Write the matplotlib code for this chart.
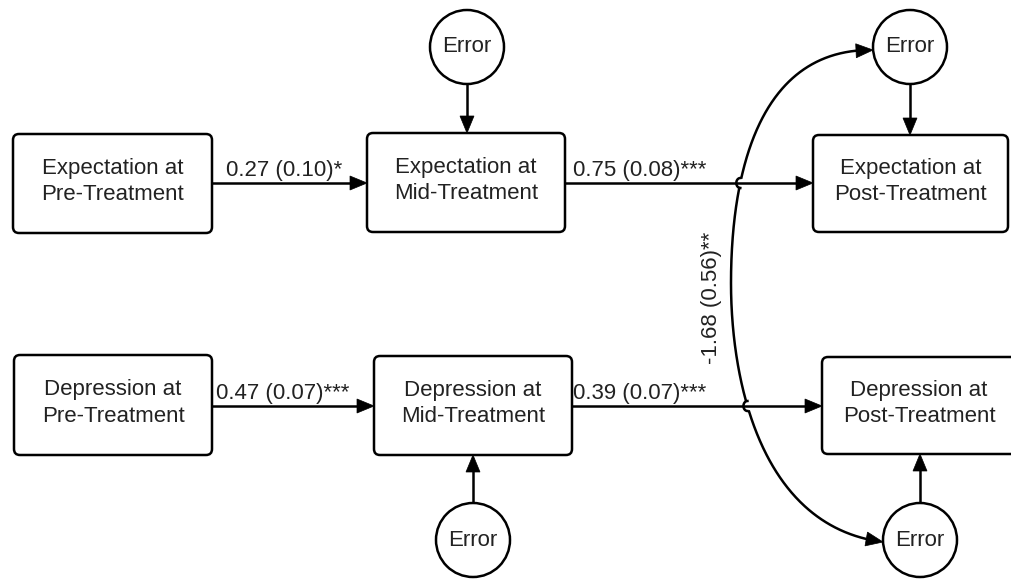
import numpy as np
import matplotlib
matplotlib.use("Agg")
import matplotlib.pyplot as plt
from matplotlib.patches import FancyBboxPatch, Circle, Polygon

# ---------------- data ----------------
box_labels = {
    "exp_pre": "Expectation at\nPre-Treatment",
    "exp_mid": "Expectation at\nMid-Treatment",
    "exp_post": "Expectation at\nPost-Treatment",
    "dep_pre": "Depression at\nPre-Treatment",
    "dep_mid": "Depression at\nMid-Treatment",
    "dep_post": "Depression at\nPost-Treatment",
}
path_labels = ["0.27 (0.10)*", "0.75 (0.08)***", "0.47 (0.07)***", "0.39 (0.07)***"]
cov_label = "-1.68 (0.56)**"
error_label = "Error"

# ---------------- layout (pixel space) ----------------
W, H = 1011, 580
boxes = {  # x0, x1, y0, y1
    "exp_pre": (13, 212, 134, 233),
    "exp_mid": (367, 565, 133, 232),
    "exp_post": (813, 1008, 135, 232),
    "dep_pre": (14, 212, 355, 455),
    "dep_mid": (374, 572, 356, 455),
    "dep_post": (822, 1017, 357, 454),
}
text_x = {"dep_post": 919}
errors = {  # cx, cy
    "exp_mid": (467, 47),
    "exp_post": (910, 47),
    "dep_mid": (473, 540),
    "dep_post": (920, 540),
}
R = 37
ROW1, ROW2 = 183, 406
LW = 1.8
TXT = "#222222"
FONT = "Liberation Sans"
FS = 16

fig = plt.figure(figsize=(W / 100, H / 100), dpi=100)
ax = fig.add_axes([0, 0, 1, 1])
ax.set_xlim(0, W)
ax.set_ylim(H, 0)
ax.axis("off")


def head(tip, direction, L=17, Wd=14):
    d = np.asarray(direction, float)
    d /= np.linalg.norm(d)
    n = np.array([-d[1], d[0]])
    tip = np.asarray(tip, float)
    base = tip - d * L
    pts = [tip, base + n * Wd / 2, base - n * Wd / 2]
    ax.add_patch(Polygon(pts, closed=True, facecolor="black", edgecolor="black", lw=0.5, zorder=4))


def arrow(p0, p1):
    p0 = np.asarray(p0, float)
    p1 = np.asarray(p1, float)
    d = p1 - p0
    u = d / np.linalg.norm(d)
    end = p1 - u * 10
    ax.plot([p0[0], end[0]], [p0[1], end[1]], color="black", lw=LW, zorder=3, solid_capstyle="butt")
    head(p1, d)


# boxes
for key, (x0, x1, y0, y1) in boxes.items():
    ax.add_patch(FancyBboxPatch((x0, y0), x1 - x0, y1 - y0,
                                boxstyle="round,pad=0,rounding_size=6",
                                facecolor="white", edgecolor="black", lw=LW, zorder=2))
    ax.text(text_x.get(key, (x0 + x1) / 2), (y0 + y1) / 2 - 2,
            box_labels[key], ha="center", va="center", fontsize=FS,
            family=FONT, color=TXT, linespacing=1.33, zorder=5)

# error circles
for key, (cx, cy) in errors.items():
    ax.add_patch(Circle((cx, cy), R, facecolor="white", edgecolor="black", lw=LW, zorder=2))
    ax.text(cx, cy, error_label, ha="center", va="center", fontsize=FS,
            family=FONT, color=TXT, zorder=5)

# error arrows
arrow((errors["exp_mid"][0], errors["exp_mid"][1] + R), (errors["exp_mid"][0], boxes["exp_mid"][2]))
arrow((errors["exp_post"][0], errors["exp_post"][1] + R), (errors["exp_post"][0], boxes["exp_post"][2]))
arrow((errors["dep_mid"][0], errors["dep_mid"][1] - R), (errors["dep_mid"][0], boxes["dep_mid"][3]))
arrow((errors["dep_post"][0], errors["dep_post"][1] - R), (errors["dep_post"][0], boxes["dep_post"][3]))

# horizontal path arrows
arrow((boxes["exp_pre"][1], ROW1), (boxes["exp_mid"][0], ROW1))
arrow((boxes["exp_mid"][1], ROW1), (boxes["exp_post"][0], ROW1))
arrow((boxes["dep_pre"][1], ROW2), (boxes["dep_mid"][0], ROW2))
arrow((boxes["dep_mid"][1], ROW2), (boxes["dep_post"][0], ROW2))

# path labels
label_pos = [(226, ROW1 - 7), (573, ROW1 - 7), (216, ROW2 - 7), (573, ROW2 - 7)]
for (x, y), lab in zip(label_pos, path_labels):
    ax.text(x, y, lab, ha="left", va="baseline", fontsize=FS, family=FONT, color=TXT, zorder=5)

# covariance curve: two cubic Bezier segments fitted to traced points
top_pts = np.array([(873, 50), (853, 52), (833, 57), (813, 64), (793, 77), (777, 93),
                    (763, 113), (753, 137), (745, 162), (739, 183), (734, 230), (731, 283)], float)
bot_pts = np.array([(731, 283), (735, 340), (742, 385), (748, 406), (754, 425), (763, 450),
                    (777, 473), (794, 496), (820, 519), (847, 533), (883, 542)], float)


def bern(t):
    return np.stack([(1 - t) ** 3, 3 * (1 - t) ** 2 * t, 3 * (1 - t) * t ** 2, t ** 3], axis=1)


def fit_bezier(P, vert_at_start):
    d = np.r_[0, np.cumsum(np.linalg.norm(np.diff(P, axis=0), axis=1))]
    t = d / d[-1]
    B = bern(t)
    P0, P3 = P[0], P[-1]
    rhs = P - np.outer(B[:, 0], P0) - np.outer(B[:, 3], P3)
    if vert_at_start:
        # P1 = (P0x, P0y + k); P2 free
        A = np.zeros((2 * len(P), 3))
        b = np.zeros(2 * len(P))
        A[:len(P), 1] = B[:, 2]
        b[:len(P)] = rhs[:, 0] - B[:, 1] * P0[0]
        A[len(P):, 0] = B[:, 1]
        A[len(P):, 2] = B[:, 2]
        b[len(P):] = rhs[:, 1] - B[:, 1] * P0[1]
        k, p2x, p2y = np.linalg.lstsq(A, b, rcond=None)[0]
        return np.array([P0, (P0[0], P0[1] + k), (p2x, p2y), P3])
    else:
        # P2 = (P3x, P3y - k); P1 free
        A = np.zeros((2 * len(P), 3))
        b = np.zeros(2 * len(P))
        A[:len(P), 0] = B[:, 1]
        b[:len(P)] = rhs[:, 0] - B[:, 2] * P3[0]
        A[len(P):, 1] = B[:, 1]
        A[len(P):, 2] = -B[:, 2]
        b[len(P):] = rhs[:, 1] - B[:, 2] * P3[1]
        p1x, p1y, k = np.linalg.lstsq(A, b, rcond=None)[0]
        return np.array([P0, (p1x, p1y), (P3[0], P3[1] - k), P3])


tt = np.linspace(0, 1, 300)
c_top = bern(tt) @ fit_bezier(top_pts, False)
c_bot = bern(tt) @ fit_bezier(bot_pts, True)
curve = np.vstack([c_top, c_bot[1:]])


def trim_end(c, dist):
    d = np.r_[0, np.cumsum(np.linalg.norm(np.diff(c[::-1], axis=0), axis=1))]
    k = np.searchsorted(d, dist)
    return c[: len(c) - k]


tip_top, tip_bot = curve[0], curve[-1]
dir_top = curve[0] - curve[15]
dir_bot = curve[-1] - curve[-15]
c = trim_end(curve, 10)[::-1]
c = trim_end(c, 10)[::-1]

# line jumps at crossings
jr = 5
mask = np.ones(len(c), bool)
jumps = []
for yc in (ROW1, ROW2):
    i = np.argmin(np.abs(c[:, 1] - yc))
    xc = c[i, 0]
    mask &= ~(np.hypot(c[:, 0] - xc, c[:, 1] - yc) < jr)
    jumps.append((xc, yc))
segs, cur = [], []
for ok, p in zip(mask, c):
    if ok:
        cur.append(p)
    elif cur:
        segs.append(np.array(cur)); cur = []
if cur:
    segs.append(np.array(cur))
for s in segs:
    ax.plot(s[:, 0], s[:, 1], color="black", lw=LW, zorder=3)
th = np.linspace(-np.pi / 2, np.pi / 2, 20)
for xc, yc in jumps:
    ax.plot(xc - jr * np.cos(th) * 0.8, yc + jr * np.sin(th), color="black", lw=LW, zorder=3)
head(tip_top, dir_top)
head(tip_bot, dir_bot)

ax.text(712, 298, cov_label, rotation=90, ha="center", va="center", fontsize=FS,
        family=FONT, color=TXT, zorder=5)

fig.savefig("out.png", dpi=100, facecolor="white")
